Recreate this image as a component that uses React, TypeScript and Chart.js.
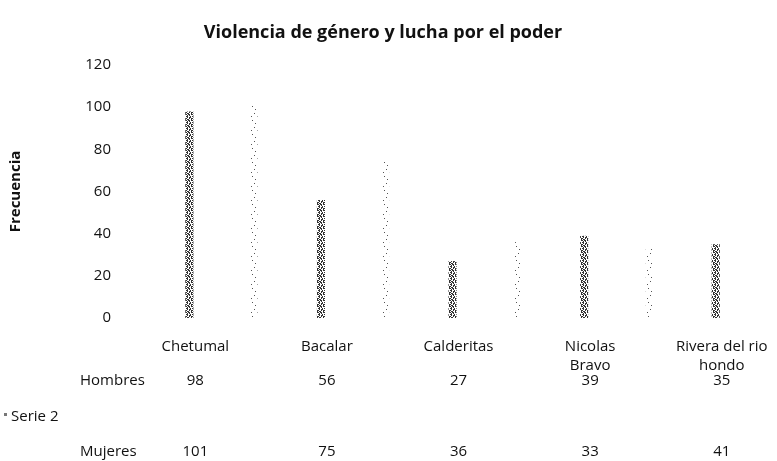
import { useEffect, useRef } from 'react';
import { Chart, registerables } from 'chart.js';

Chart.register(...registerables);

const chartTitle = 'Violencia de género y lucha por el poder';
const yAxisTitle = 'Frecuencia';
const categories: (string | string[])[] = ['Chetumal', 'Bacalar', 'Calderitas', ['Nicolas', 'Bravo'], ['Rivera del rio', 'hondo']];
const seriesNames = ['Hombres', 'Serie 2', 'Mujeres'];
const hombres = [98, 56, 27, 39, 35];
const serie2: (number | null)[] = [null, null, null, null, null];
const mujeres = [101, 75, 36, 33, 41];
const yMin = 0;
const yMax = 120;
const yStep = 20;

const FONT = '"Open Sans", "DejaVu Sans", sans-serif';

function makePattern(rows: string[], color: string): CanvasPattern | string {
  const c = document.createElement('canvas');
  c.width = rows[0].length;
  c.height = rows.length;
  const g = c.getContext('2d');
  if (!g) return color;
  g.fillStyle = color;
  rows.forEach((r, y) => {
    for (let x = 0; x < r.length; x++) if (r[x] === 'x') g.fillRect(x, y, 1, 1);
  });
  return g.createPattern(c, 'repeat') || color;
}

const tablePlugin = {
  id: 'dataTable',
  afterDraw(chart: any) {
    const ctx = chart.ctx as CanvasRenderingContext2D;
    const meta = chart.getDatasetMeta(0);
    ctx.save();
    ctx.fillStyle = '#111';
    ctx.textBaseline = 'middle';
    // title
    ctx.font = `bold 18px ${FONT}`;
    ctx.textAlign = 'center';
    ctx.fillText(chartTitle, 383, 33);
    // category labels and values
    ctx.font = `15px ${FONT}`;
    meta.data.forEach((bar: any, i: number) => {
      const x = bar.x + 6;
      const lab = categories[i];
      const lines = Array.isArray(lab) ? lab : [lab];
      lines.forEach((l, k) => ctx.fillText(l, x, 347 + k * 19));
      ctx.fillText(String(hombres[i]), x, 381);
      if (serie2[i] != null) ctx.fillText(String(serie2[i]), x, 417);
      ctx.fillText(String(mujeres[i]), x, 452);
    });
    // row headers
    ctx.textAlign = 'left';
    ctx.fillText(seriesNames[0], 80, 381);
    ctx.fillText(seriesNames[1], 11, 417);
    ctx.fillText(seriesNames[2], 80, 452);
    ctx.fillStyle = '#777';
    ctx.fillRect(4, 413, 3, 3);
    ctx.restore();
  },
};

export default function App() {
  const ref = useRef<HTMLCanvasElement>(null);
  useEffect(() => {
    if (!ref.current) return;
    const dense = makePattern(
      ['x.xx.x', '.x.x..', 'xx..x.', '.x.xx.', 'x..x.x', '.xx..x'],
      '#333'
    );
    const sparse = makePattern(
      ['......', '..x...', '......', '......', '.....x', '......', '......', '......', 'x.....', '......', '......', '...x..', '......', '......'],
      '#555'
    );
    const chart = new Chart(ref.current, {
      type: 'bar',
      data: {
        labels: categories as any,
        datasets: [
          { label: seriesNames[0], data: hombres, backgroundColor: dense as any, barPercentage: 0.25 },
          { label: seriesNames[1], data: serie2 as any, backgroundColor: '#999', barPercentage: 0.25 },
          { label: seriesNames[2], data: mujeres, backgroundColor: sparse as any, barPercentage: 0.2 },
        ],
      },
      options: {
        responsive: false,
        animation: false,
        layout: { padding: { left: 0, right: 16, top: 65, bottom: 143 } },
        datasets: { bar: { categoryPercentage: 0.74 } },
        plugins: {
          legend: { display: false },
          title: { display: false },
          tooltip: { enabled: false },
        },
        scales: {
          x: { display: false },
          y: {
            min: yMin,
            max: yMax,
            ticks: { stepSize: yStep, padding: 45, color: '#111', font: { family: FONT, size: 15 } },
            grid: { display: false, drawTicks: false },
            border: { display: false },
            title: {
              display: true,
              text: yAxisTitle,
              color: '#111',
              font: { family: FONT, size: 15, weight: 'bold' },
              padding: { top: 7, bottom: 0 },
            },
            afterFit: (s: any) => {
              s.width = 156;
            },
          },
        },
      },
      plugins: [tablePlugin],
    });
    return () => chart.destroy();
  }, []);
  return (
    <div style={{ position: 'fixed', left: 0, top: 0, width: 777, height: 461, overflow: 'hidden', background: '#fff' }}>
      <canvas ref={ref} width={830} height={461} style={{ display: 'block' }} />
    </div>
  );
}
